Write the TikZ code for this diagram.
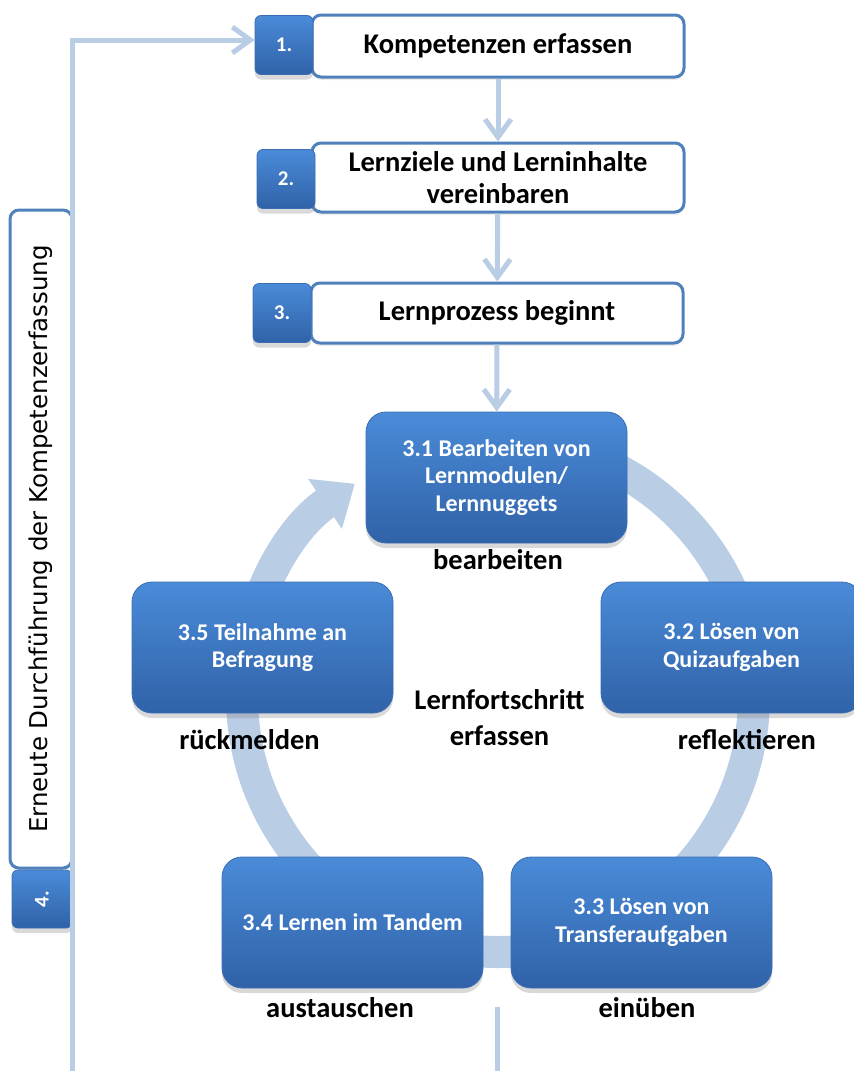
\documentclass[tikz,border=0pt]{standalone}
\usepackage{fontspec}
\setmainfont{Carlito}
\newfontfamily\vertfont{DejaVu Sans}
\usetikzlibrary{calc,positioning,shadows,arrows.meta}
\definecolor{ringblue}{RGB}{185,205,229}
\definecolor{boxborder}{RGB}{79,129,189}
\definecolor{steptop}{RGB}{74,139,216}
\definecolor{stepbottom}{RGB}{48,98,168}
\definecolor{stepline}{RGB}{60,110,180}

\begin{document}
\begin{tikzpicture}[x=1pt,y=-1pt,
  every node/.style={align=center,inner sep=0pt},
  stepbox/.style={draw=boxborder,line width=3pt,fill=white,rounded corners=9pt,
    minimum width=372pt,minimum height=62pt,font=\fontsize{28.5}{31.5}\selectfont\bfseries,
    drop shadow={shadow xshift=0pt,shadow yshift=-3pt,opacity=0.15}},
  numbox/.style={draw=stepline,line width=0.8pt,rounded corners=6pt,top color=steptop,bottom color=stepbottom,
    minimum width=58pt,minimum height=59pt,text=white,font=\fontsize{21}{24}\selectfont\bfseries,
    drop shadow={shadow xshift=0pt,shadow yshift=-5pt,opacity=0.3}},
  cyclebox/.style={draw=stepline,line width=0.8pt,rounded corners=20pt,top color=steptop,bottom color=stepbottom,
    minimum width=261pt,minimum height=131pt,text=white,font=\fontsize{24}{27.5}\selectfont\bfseries,
    drop shadow={shadow xshift=0pt,shadow yshift=-5pt,opacity=0.3}},
  phase/.style={font=\fontsize{28.5}{36}\selectfont\bfseries},
  flow/.style={ringblue,line width=5pt,-{Straight Barb[length=18pt,width=26pt]}}]
\useasboundingbox (0,0) rectangle (854,1071);

\coordinate (RingCenter) at (498,696);
\draw [ringblue,line width=32pt,-{Triangle[width=58pt,length=36pt]}] ($(RingCenter)+(0,-256)$) arc [start angle=90,end angle=-236,radius=256pt];

\node [stepbox] (KompetenzenBox) at (498,46) {Kompetenzen erfassen};
\node [numbox] (KompetenzenNum) at (284,45) {1.};
\node [stepbox,minimum height=69pt] (LernzieleBox) at (498,177.5) {Lernziele und Lerninhalte\\vereinbaren};
\node [numbox] (LernzieleNum) at (286,179) {2.};
\node [stepbox,minimum height=60pt] (LernprozessBox) at (497,313) {Lernprozess beginnt};
\node [numbox] (LernprozessNum) at (282,313) {3.};
\node [stepbox,rotate=90,minimum width=658pt,font=\vertfont\fontsize{24.5}{28}\selectfont] (ErneutBox) at (41,539) {Erneute Durchführung der Kompetenzerfassung};
\node [numbox,rotate=90,minimum width=58pt,minimum height=60pt] (ErneutNum) at (42,899) {4.};

\node [cyclebox] (Bearbeiten) at (496.5,477.5) {3.1 Bearbeiten von\\Lernmodulen/\\Lernnuggets};
\node [cyclebox] (Quiz) at (731.5,647.5) {3.2 Lösen von\\Quizaufgaben};
\node [cyclebox] (Transfer) at (641.5,922.5) {3.3 Lösen von\\Transferaufgaben};
\node [cyclebox] (Tandem) at (352.5,922.5) {3.4 Lernen im Tandem};
\node [cyclebox] (Befragung) at (262.5,647.5) {3.5 Teilnahme an\\Befragung};

\node [phase] (BearbeitenLabel) at (498,560) {bearbeiten};
\node [phase] (QuizLabel) at (747,740) {reflektieren};
\node [phase] (TransferLabel) at (647,1008) {einüben};
\node [phase] (TandemLabel) at (340,1008) {austauschen};
\node [phase] (BefragungLabel) at (249.5,740) {rückmelden};
\node [phase] (FortschrittLabel) at (499.5,718) {Lernfortschritt\\erfassen};

\draw [flow] (KompetenzenBox) -- (LernzieleBox);
\draw [flow] (LernzieleBox) -- (LernprozessBox);
\draw [flow] (LernprozessBox) -- (Bearbeiten);

\coordinate (LoopStart) at (72.5,1071);
\draw [flow] (LoopStart) |- ([yshift=5pt]KompetenzenNum.west);
\coordinate (OutStart) at (497,1007);
\coordinate (OutEnd) at (497,1071);
\draw [ringblue,line width=5pt] (OutStart) -- (OutEnd);
\end{tikzpicture}
\end{document}
